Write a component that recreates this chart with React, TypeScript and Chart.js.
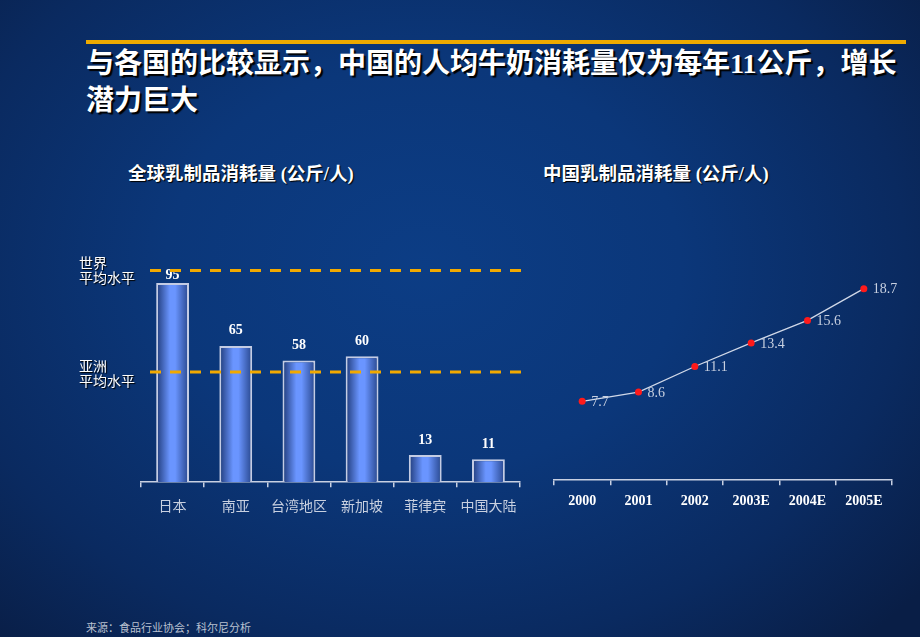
import React, { useEffect, useRef } from 'react';
import { Chart, registerables } from 'chart.js';

Chart.register(...registerables);

const regions = ['日本', '南亚', '台湾地区', '新加坡', '菲律宾', '中国大陆'];
const regionConsumption = [95, 65, 58, 60, 13, 11];
const referenceLevels = [101, 52.5];
const years = ['2000', '2001', '2002', '2003E', '2004E', '2005E'];
const chinaConsumption = [7.7, 8.6, 11.1, 13.4, 15.6, 18.7];

const SERIF = '"Liberation Serif", "Times New Roman", "Noto Sans CJK SC", serif';
const CJK = '"Noto Sans CJK SC", "Liberation Serif", sans-serif';
const BAR_PCT = 0.52;
const AXIS_COLOR = '#c8d0e2';

function BarChart() {
  const ref = useRef<HTMLCanvasElement | null>(null);
  useEffect(() => {
    if (!ref.current) return;
    const barLabels = {
      id: 'barLabels',
      afterDatasetsDraw(chart: any) {
        const ctx = chart.ctx;
        const meta = chart.getDatasetMeta(0);
        ctx.save();
        ctx.fillStyle = '#ffffff';
        ctx.font = 'bold 14px ' + SERIF;
        ctx.textAlign = 'center';
        ctx.textBaseline = 'middle';
        meta.data.forEach((el: any, i: number) => {
          const y = Math.max(el.y - 15, chart.chartArea.top + 13);
          ctx.fillText(String(regionConsumption[i]), el.x, y);
        });
        ctx.restore();
      },
    };
    const refLines = {
      id: 'refLines',
      afterDatasetsDraw(chart: any) {
        const ctx = chart.ctx;
        const x = chart.scales.x;
        const y = chart.scales.y;
        ctx.save();
        ctx.strokeStyle = '#f2a900';
        ctx.lineWidth = 3;
        ctx.setLineDash([11, 9]);
        referenceLevels.forEach((v) => {
          const py = y.getPixelForValue(v);
          ctx.beginPath();
          ctx.moveTo(x.left + 9, py);
          ctx.lineTo(x.right + 6, py);
          ctx.stroke();
        });
        ctx.restore();
      },
    };
    const chart = new Chart(ref.current, {
      type: 'bar',
      data: {
        labels: regions,
        datasets: [
          {
            data: regionConsumption,
            backgroundColor: (c: any) => {
              const ch = c.chart;
              const xs = ch.scales && ch.scales.x;
              if (!xs || c.dataIndex === undefined || !xs.width) return '#5a80e0';
              const center = xs.getPixelForValue(c.dataIndex);
              const half = (xs.width / regions.length) * BAR_PCT / 2;
              const g = ch.ctx.createLinearGradient(center - half, 0, center + half, 0);
              g.addColorStop(0, '#1f3a78');
              g.addColorStop(0.42, '#6a95ff');
              g.addColorStop(0.58, '#6a95ff');
              g.addColorStop(1, '#27468c');
              return g;
            },
            borderColor: '#c4cce4',
            borderWidth: 2,
            borderSkipped: 'bottom',
            barPercentage: BAR_PCT,
            categoryPercentage: 1,
          },
        ],
      },
      options: {
        responsive: false,
        animation: false,
        devicePixelRatio: 1,
        layout: { padding: { left: 71, right: 20, top: 22, bottom: 5 } },
        plugins: { legend: { display: false }, tooltip: { enabled: false } },
        scales: {
          x: {
            grid: {
              display: true,
              drawOnChartArea: false,
              drawTicks: true,
              tickLength: 5,
              color: AXIS_COLOR,
              lineWidth: 1.5,
              offset: true,
            },
            border: { display: true, color: AXIS_COLOR, width: 1.5 },
            ticks: { color: '#c8d0e0', font: { family: CJK, size: 14 }, padding: 10, maxRotation: 0 },
          },
          y: { display: false, min: 0, max: 105 },
        },
      },
      plugins: [barLabels, refLines],
    });
    return () => chart.destroy();
  }, []);
  return (
    <canvas
      ref={ref}
      width={470}
      height={289}
      style={{ position: 'absolute', left: 70, top: 240, width: 470, height: 289 }}
    />
  );
}

function LineChart() {
  const ref = useRef<HTMLCanvasElement | null>(null);
  useEffect(() => {
    if (!ref.current) return;
    const pointLabels = {
      id: 'pointLabels',
      afterDatasetsDraw(chart: any) {
        const ctx = chart.ctx;
        const meta = chart.getDatasetMeta(0);
        ctx.save();
        ctx.fillStyle = '#c8d0e0';
        ctx.font = '14px ' + SERIF;
        ctx.textAlign = 'left';
        ctx.textBaseline = 'middle';
        meta.data.forEach((el: any, i: number) => {
          ctx.fillText(chinaConsumption[i].toFixed(1), el.x + 9, el.y + 1);
        });
        ctx.restore();
      },
    };
    const chart = new Chart(ref.current, {
      type: 'line',
      data: {
        labels: years,
        datasets: [
          {
            data: chinaConsumption,
            borderColor: '#d0d8e8',
            borderWidth: 1.3,
            pointBackgroundColor: '#ff1a1a',
            pointBorderColor: '#ff1a1a',
            pointRadius: 3.5,
            pointBorderWidth: 0,
            tension: 0,
          },
        ],
      },
      options: {
        responsive: false,
        animation: false,
        devicePixelRatio: 1,
        layout: { padding: { left: 14, right: 28, top: 20, bottom: 5 } },
        plugins: { legend: { display: false }, tooltip: { enabled: false } },
        scales: {
          x: {
            offset: true,
            grid: {
              display: true,
              drawOnChartArea: false,
              drawTicks: true,
              tickLength: 5,
              color: AXIS_COLOR,
              lineWidth: 1.5,
              offset: true,
            },
            border: { display: true, color: AXIS_COLOR, width: 1.5 },
            ticks: { color: '#ffffff', font: { family: SERIF, size: 14, weight: 'bold' }, padding: 8, maxRotation: 0 },
          },
          y: { display: false, min: 0, max: 21.5 },
        },
      },
      plugins: [pointLabels],
    });
    return () => chart.destroy();
  }, []);
  return (
    <canvas
      ref={ref}
      width={380}
      height={283}
      style={{ position: 'absolute', left: 540, top: 240, width: 380, height: 283 }}
    />
  );
}

const shadow = '1px 1px 1px #000000';

export default function App() {
  return (
    <div
      style={{
        position: 'relative',
        width: 920,
        height: 637,
        overflow: 'hidden',
        background:
          'radial-gradient(ellipse 70% 80% at 46% 42%, #0c3d85 0%, #0b377a 40%, #0a2a60 75%, #091e46 100%)',
      }}
    >
      <style>{'body{margin:0;}'}</style>
      <div style={{ position: 'absolute', left: 86, top: 40, width: 820, height: 4, background: '#eeaa00' }} />
      <div
        style={{
          position: 'absolute',
          left: 86,
          top: 45,
          color: '#ffffff',
          fontFamily: SERIF,
          fontWeight: 'bold',
          fontSize: 28,
          lineHeight: '37px',
          whiteSpace: 'nowrap',
          textShadow: '2px 2px 1px #000000',
        }}
      >
        与各国的比较显示，中国的人均牛奶消耗量仅为每年11公斤，增长
        <br />
        潜力巨大
      </div>
      <div
        style={{
          position: 'absolute',
          left: 128,
          top: 163,
          color: '#ffffff',
          fontFamily: SERIF,
          fontWeight: 'bold',
          fontSize: 18.5,
          lineHeight: '22px',
          whiteSpace: 'nowrap',
          textShadow: shadow,
        }}
      >
        全球乳制品消耗量 (公斤/人)
      </div>
      <div
        style={{
          position: 'absolute',
          left: 543,
          top: 163,
          color: '#ffffff',
          fontFamily: SERIF,
          fontWeight: 'bold',
          fontSize: 18.5,
          lineHeight: '22px',
          whiteSpace: 'nowrap',
          textShadow: shadow,
        }}
      >
        中国乳制品消耗量 (公斤/人)
      </div>
      <div
        style={{
          position: 'absolute',
          left: 79,
          top: 255,
          color: '#ffffff',
          fontFamily: CJK,
          fontSize: 14,
          lineHeight: '15px',
          whiteSpace: 'nowrap',
          textShadow: shadow,
          zIndex: 2,
        }}
      >
        世界
        <br />
        平均水平
      </div>
      <div
        style={{
          position: 'absolute',
          left: 79,
          top: 358,
          color: '#ffffff',
          fontFamily: CJK,
          fontSize: 14,
          lineHeight: '15px',
          whiteSpace: 'nowrap',
          textShadow: shadow,
          zIndex: 2,
        }}
      >
        亚洲
        <br />
        平均水平
      </div>
      <BarChart />
      <LineChart />
      <div
        style={{
          position: 'absolute',
          left: 86,
          top: 620,
          color: '#b8c0d0',
          fontFamily: CJK,
          fontSize: 11,
          lineHeight: '14px',
          whiteSpace: 'nowrap',
        }}
      >
        来源：食品行业协会；科尔尼分析
      </div>
    </div>
  );
}
